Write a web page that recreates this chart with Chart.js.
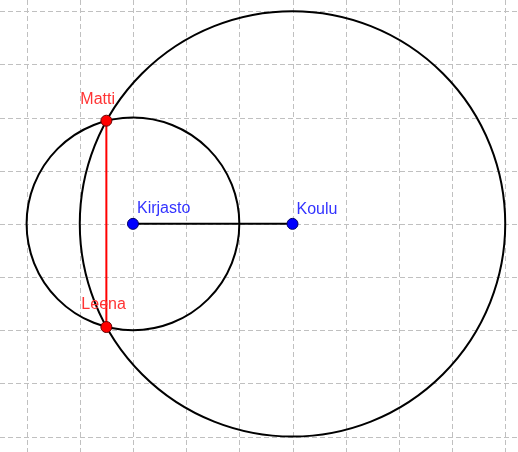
<!DOCTYPE html>
<html>
<head>
<meta charset="utf-8">
<script src="https://cdn.jsdelivr.net/npm/chart.js@4/dist/chart.umd.min.js"></script>
<style>
  html, body { margin: 0; padding: 0; background: #ffffff; }
  #wrap { width: 518px; height: 452px; }
</style>
</head>
<body>
<div id="wrap"><canvas id="c" width="518" height="452"></canvas></div>
<script>
// ---- data (grid units) ----
const pointNames = ["Kirjasto", "Koulu", "Matti", "Leena"];
const pointX = [0, 3, -0.5, -0.5];
const pointY = [0, 0, 1.94, -1.94];
const circleCenterX = [0, 3];
const circleCenterY = [0, 0];
const circleRadius = [2, 4];
const segments = [["Kirjasto", "Koulu"], ["Matti", "Leena"]];
const xRange = [-2.5, 7.24];
const yRange = [-4.29, 4.21];

// ---- styles ----
const BLUE = "#0000ff";
const RED = "#ff0000";
const labelColor = { Kirjasto: "#3333ff", Koulu: "#3333ff", Matti: "#ff3333", Leena: "#ff3333" };
const labelOffset = { Kirjasto: [4, -11], Koulu: [4, -10], Matti: [-26, -17], Leena: [-25, -18] };

function pt(name) {
  const i = pointNames.indexOf(name);
  return { x: pointX[i], y: pointY[i], name: name };
}

const gridPlugin = {
  id: "dashgrid",
  beforeDatasetsDraw(chart) {
    const ctx = chart.ctx, xs = chart.scales.x, ys = chart.scales.y;
    const a = chart.chartArea;
    ctx.save();
    ctx.strokeStyle = "#c0c0c0";
    ctx.lineWidth = 1;
    ctx.setLineDash([5, 3]);
    xs.ticks.forEach(t => {
      const x = Math.round(xs.getPixelForValue(t.value)) + 0.5;
      ctx.beginPath(); ctx.moveTo(x, a.top); ctx.lineTo(x, a.bottom); ctx.stroke();
    });
    ys.ticks.forEach(t => {
      const y = Math.round(ys.getPixelForValue(t.value)) + 0.5;
      ctx.beginPath(); ctx.moveTo(a.left, y); ctx.lineTo(a.right, y); ctx.stroke();
    });
    ctx.restore();
  }
};

const circlePlugin = {
  id: "circles",
  beforeDatasetsDraw(chart) {
    const ctx = chart.ctx, xs = chart.scales.x, ys = chart.scales.y;
    ctx.save();
    ctx.strokeStyle = "#000000";
    ctx.lineWidth = 2;
    for (let i = 0; i < circleRadius.length; i++) {
      const cx = xs.getPixelForValue(circleCenterX[i]);
      const cy = ys.getPixelForValue(circleCenterY[i]);
      const r = xs.getPixelForValue(circleCenterX[i] + circleRadius[i]) - cx;
      ctx.beginPath();
      ctx.arc(cx, cy, r, 0, Math.PI * 2);
      ctx.stroke();
    }
    ctx.restore();
  }
};

const labelPlugin = {
  id: "labels",
  afterDatasetsDraw(chart) {
    const ctx = chart.ctx, xs = chart.scales.x, ys = chart.scales.y;
    ctx.save();
    ctx.font = '16px "Liberation Sans", Arial, sans-serif';
    ctx.textBaseline = "alphabetic";
    ctx.textAlign = "left";
    pointNames.forEach((n, i) => {
      const px = xs.getPixelForValue(pointX[i]);
      const py = ys.getPixelForValue(pointY[i]);
      ctx.fillStyle = labelColor[n];
      ctx.fillText(n, px + labelOffset[n][0], py + labelOffset[n][1]);
    });
    ctx.restore();
  }
};

const hiddenAxis = (range) => ({
  type: "linear",
  min: range[0],
  max: range[1],
  display: false,
  ticks: { stepSize: 1, includeBounds: false }
});

new Chart(document.getElementById("c"), {
  type: "scatter",
  data: {
    datasets: [
      {
        data: segments[0].map(pt),
        showLine: true,
        borderColor: "#000000",
        borderWidth: 2,
        pointRadius: 0,
        order: 4
      },
      {
        data: segments[1].map(pt),
        showLine: true,
        borderColor: RED,
        borderWidth: 2,
        pointRadius: 0,
        order: 3
      },
      {
        data: ["Kirjasto", "Koulu"].map(pt),
        backgroundColor: BLUE,
        borderColor: "#000066",
        borderWidth: 1,
        pointRadius: 5.5,
        order: 1
      },
      {
        data: ["Matti", "Leena"].map(pt),
        backgroundColor: RED,
        borderColor: "#660000",
        borderWidth: 1,
        pointRadius: 5.5,
        order: 1
      }
    ]
  },
  options: {
    responsive: false,
    animation: false,
    layout: { padding: 0, autoPadding: false },
    plugins: { legend: { display: false }, tooltip: { enabled: false } },
    scales: { x: hiddenAxis(xRange), y: hiddenAxis(yRange) }
  },
  plugins: [gridPlugin, circlePlugin, labelPlugin]
});
</script>
</body>
</html>
